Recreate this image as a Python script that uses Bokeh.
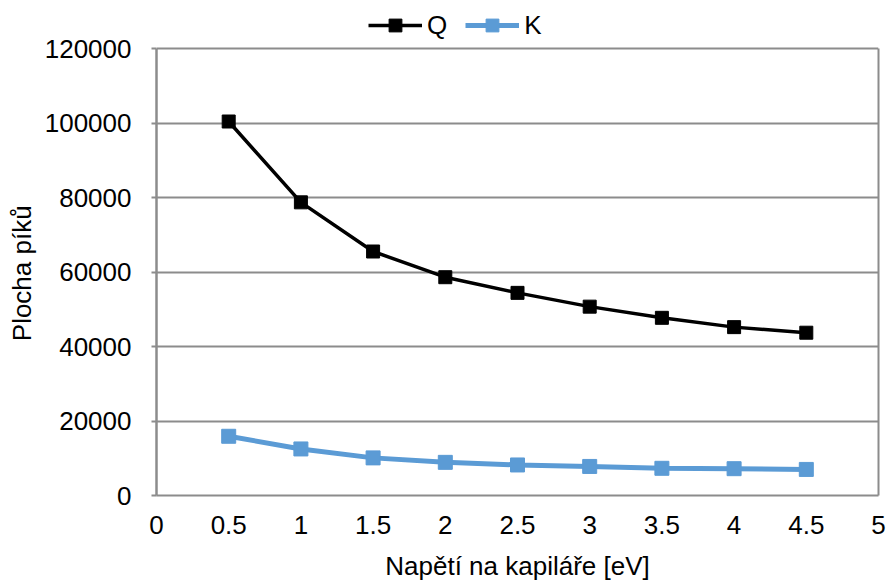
from bokeh.plotting import figure
from bokeh.models import (Range1d, FixedTicker, NumeralTickFormatter, Legend, LegendItem, LinearAxis)
from bokeh.embed import file_html
from bokeh.resources import INLINE

# Data
voltage = [0.5, 1, 1.5, 2, 2.5, 3, 3.5, 4, 4.5]
q_values = [100400, 78700, 65500, 58600, 54400, 50700, 47700, 45200, 43700]
k_values = [15900, 12500, 10100, 8900, 8200, 7800, 7300, 7200, 7000]
x_ticks = [0, 0.5, 1, 1.5, 2, 2.5, 3, 3.5, 4, 4.5, 5]
y_ticks = [0, 20000, 40000, 60000, 80000, 100000, 120000]
x_title = "Napětí na kapiláře [eV]"
y_title = "Plocha píků"

FONT = "Liberation Sans"
FS = "26px"
GRAY = "#8c8c8c"
BLUE = "#5b9bd5"

Y_MAX = 120000
# frame runs to the top of the page so the legend can sit above the plot area
Y_TOP = Y_MAX * 495 / 447

p = figure(width=890, height=583, output_backend="svg", toolbar_location=None,
           x_range=Range1d(0, 5), y_range=Range1d(0, Y_TOP),
           min_border_left=156, min_border_right=12, min_border_top=0,
           min_border_bottom=88)

p.background_fill_color = "white"
p.border_fill_color = "white"
p.outline_line_color = None

p.xgrid.visible = False
p.ygrid.ticker = FixedTicker(ticks=y_ticks)
p.ygrid.grid_line_color = GRAY
p.ygrid.grid_line_width = 2

# X axis
xa = p.xaxis[0]
xa.ticker = FixedTicker(ticks=x_ticks)
xa.formatter = NumeralTickFormatter(format="0.[0]")
xa.axis_line_color = GRAY
xa.axis_line_width = 2
xa.major_tick_out = 0
xa.major_tick_in = 0
xa.minor_tick_out = 0
xa.minor_tick_in = 0
xa.major_label_text_font = FONT
xa.major_label_text_font_size = FS
xa.major_label_text_color = "black"
xa.major_label_standoff = 20
xa.axis_label = x_title
xa.axis_label_text_font = FONT
xa.axis_label_text_font_size = FS
xa.axis_label_text_font_style = "normal"
xa.axis_label_text_color = "black"
xa.axis_label_standoff = 14

# Y axis
ya = p.yaxis[0]
ya.bounds = (0, Y_MAX)
ya.ticker = FixedTicker(ticks=y_ticks)
ya.formatter = NumeralTickFormatter(format="0")
ya.axis_line_color = GRAY
ya.axis_line_width = 2.5
ya.major_tick_out = 5
ya.major_tick_in = 0
ya.major_tick_line_color = GRAY
ya.major_tick_line_width = 2
ya.minor_tick_out = 0
ya.minor_tick_in = 0
ya.major_label_text_font = FONT
ya.major_label_text_font_size = FS
ya.major_label_text_color = "black"
ya.major_label_standoff = 20
# trailing no-break spaces keep the title centred on the plot area, not the frame
ya.axis_label = y_title + "\u00a0" * 7
ya.axis_label_text_font = FONT
ya.axis_label_text_font_size = FS
ya.axis_label_text_font_style = "normal"
ya.axis_label_text_color = "black"
ya.axis_label_standoff = 5

# right border of the plot area
ra = LinearAxis(bounds=(0, Y_MAX), ticker=FixedTicker(ticks=[]),
                axis_line_color=GRAY, axis_line_width=2,
                major_tick_out=0, major_tick_in=0, minor_tick_out=0, minor_tick_in=0,
                major_label_text_font_size="0px")
p.add_layout(ra, "right")

# Series
q_line = p.line(voltage, q_values, line_color="black", line_width=3.5)
q_pts = p.scatter(voltage, q_values, marker="square", size=13,
                  fill_color="black", line_color="black")
k_line = p.line(voltage, k_values, line_color=BLUE, line_width=5)
k_pts = p.scatter(voltage, k_values, marker="square", size=14,
                  fill_color=BLUE, line_color=BLUE)

legend = Legend(items=[LegendItem(label="Q", renderers=[q_line, q_pts]),
                       LegendItem(label="K", renderers=[k_line, k_pts])],
                location=(212, 454), orientation="horizontal",
                glyph_width=54, glyph_height=32, label_standoff=5, spacing=18,
                padding=0, margin=0,
                label_text_font=FONT, label_text_font_size=FS,
                label_text_color="black",
                background_fill_alpha=0, border_line_alpha=0)
p.add_layout(legend, "center")

open("out.html", "w").write(file_html(p, INLINE))
